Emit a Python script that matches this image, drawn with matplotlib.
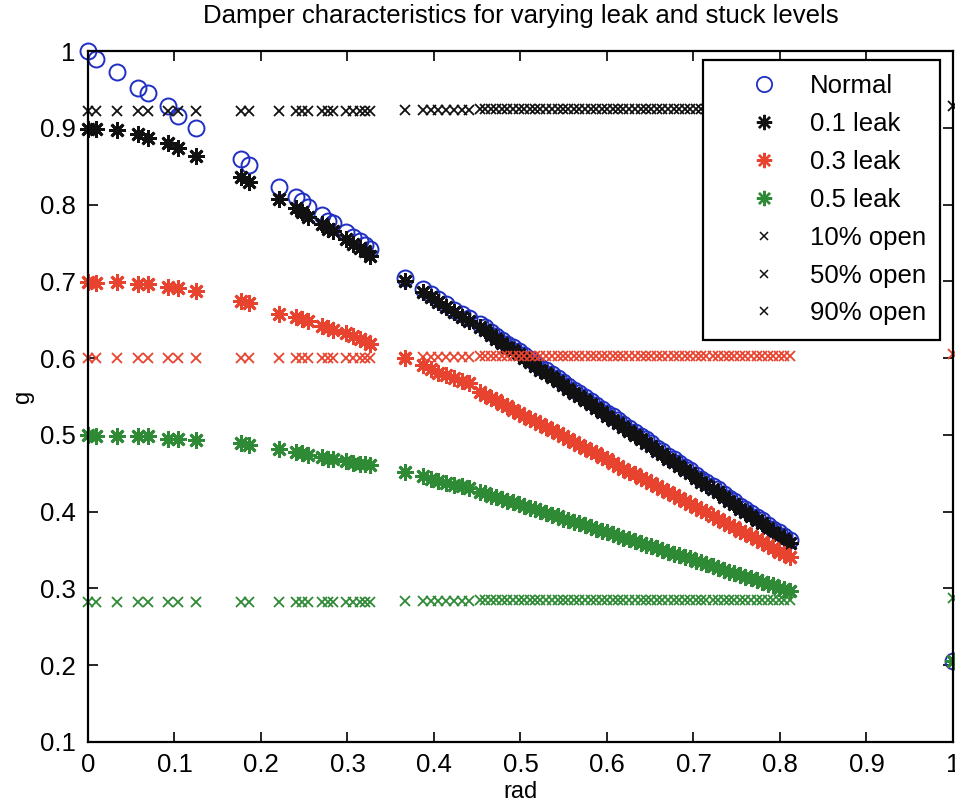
import matplotlib.pyplot as plt
from matplotlib.lines import Line2D

# damper opening angle (rad) at each sample
rad = [0.000, 0.009, 0.033, 0.058, 0.069, 0.093, 0.104, 0.125,
       0.177, 0.186,
       0.221, 0.240, 0.247, 0.254, 0.270, 0.278, 0.283, 0.298, 0.306, 0.314, 0.320, 0.326,
       0.366, 0.387, 0.396, 0.405, 0.414, 0.423, 0.432, 0.440,
       0.453, 0.459, 0.466, 0.472, 0.479, 0.485, 0.491, 0.498, 0.504, 0.511,
       0.517, 0.523, 0.530, 0.536, 0.543, 0.549, 0.555, 0.562, 0.568, 0.575,
       0.581, 0.587, 0.594, 0.600, 0.607, 0.613, 0.619, 0.626, 0.632, 0.639,
       0.645, 0.651, 0.658, 0.664, 0.671, 0.677, 0.683, 0.690, 0.696, 0.703,
       0.709, 0.715, 0.722, 0.728, 0.735, 0.741, 0.747, 0.754, 0.760, 0.767,
       0.773, 0.779, 0.786, 0.792, 0.799, 0.805, 0.811,
       1.000]

normal = [1.000, 0.990, 0.973, 0.952, 0.945, 0.928, 0.916, 0.900,
          0.859, 0.851,
          0.823, 0.810, 0.804, 0.797, 0.786, 0.779, 0.776, 0.764, 0.758, 0.752, 0.747, 0.742,
          0.705, 0.690, 0.683, 0.677, 0.671, 0.663, 0.657, 0.652,
          0.644, 0.640, 0.634, 0.629, 0.624, 0.619, 0.615, 0.609, 0.604, 0.599,
          0.594, 0.589, 0.584, 0.579, 0.574, 0.569, 0.564, 0.559, 0.554, 0.549,
          0.544, 0.539, 0.534, 0.529, 0.524, 0.519, 0.514, 0.509, 0.504, 0.498,
          0.494, 0.489, 0.483, 0.479, 0.473, 0.469, 0.464, 0.458, 0.454, 0.448,
          0.443, 0.439, 0.433, 0.429, 0.423, 0.418, 0.414, 0.408, 0.403, 0.398,
          0.393, 0.389, 0.383, 0.378, 0.373, 0.368, 0.363,
          0.206]

leak01 = [0.899, 0.898, 0.897, 0.892, 0.887, 0.880, 0.874, 0.863,
          0.836, 0.830,
          0.807, 0.795, 0.790, 0.784, 0.775, 0.768, 0.765, 0.755, 0.749, 0.743, 0.739, 0.733,
          0.700, 0.686, 0.680, 0.673, 0.667, 0.660, 0.654, 0.648,
          0.640, 0.636, 0.630, 0.625, 0.620, 0.615, 0.611, 0.605, 0.600, 0.595,
          0.590, 0.585, 0.580, 0.575, 0.570, 0.565, 0.560, 0.555, 0.550, 0.545,
          0.540, 0.535, 0.530, 0.525, 0.520, 0.515, 0.510, 0.505, 0.500, 0.494,
          0.490, 0.485, 0.479, 0.475, 0.469, 0.465, 0.460, 0.454, 0.450, 0.444,
          0.439, 0.435, 0.429, 0.425, 0.419, 0.414, 0.410, 0.404, 0.399, 0.394,
          0.389, 0.385, 0.379, 0.374, 0.369, 0.364, 0.359,
          0.206]

leak03 = [0.699, 0.698, 0.699, 0.696, 0.696, 0.692, 0.691, 0.687,
          0.675, 0.672,
          0.658, 0.653, 0.651, 0.648, 0.642, 0.639, 0.637, 0.633, 0.629, 0.625, 0.622, 0.619,
          0.600, 0.591, 0.586, 0.581, 0.578, 0.574, 0.570, 0.567,
          0.556, 0.552, 0.548, 0.545, 0.540, 0.537, 0.533, 0.529, 0.525, 0.521,
          0.518, 0.514, 0.510, 0.506, 0.502, 0.498, 0.495, 0.491, 0.487, 0.483,
          0.479, 0.476, 0.471, 0.468, 0.464, 0.460, 0.456, 0.452, 0.449, 0.444,
          0.441, 0.437, 0.433, 0.429, 0.425, 0.422, 0.418, 0.414, 0.410, 0.406,
          0.402, 0.399, 0.394, 0.391, 0.387, 0.383, 0.380, 0.375, 0.372, 0.368,
          0.364, 0.360, 0.356, 0.353, 0.348, 0.345, 0.341,
          0.205]

leak05 = [0.500, 0.499, 0.498, 0.498, 0.498, 0.495, 0.495, 0.493,
          0.489, 0.487,
          0.481, 0.478, 0.476, 0.474, 0.471, 0.469, 0.468, 0.466, 0.464, 0.462, 0.462, 0.461,
          0.452, 0.446, 0.443, 0.440, 0.437, 0.435, 0.433, 0.431,
          0.426, 0.424, 0.421, 0.419, 0.417, 0.414, 0.412, 0.410, 0.408, 0.405,
          0.403, 0.401, 0.398, 0.396, 0.394, 0.391, 0.389, 0.387, 0.385, 0.382,
          0.380, 0.378, 0.375, 0.373, 0.371, 0.368, 0.366, 0.364, 0.362, 0.359,
          0.357, 0.355, 0.352, 0.350, 0.348, 0.345, 0.343, 0.341, 0.339, 0.336,
          0.334, 0.332, 0.329, 0.327, 0.324, 0.322, 0.320, 0.318, 0.315, 0.313,
          0.311, 0.309, 0.306, 0.304, 0.301, 0.299, 0.297,
          0.205]

# stuck dampers: flat response per group of samples
open10 = [0.282] * 22 + [0.283] * 8 + [0.285] * 57 + [0.288]
open50 = [0.600] * 22 + [0.601] * 8 + [0.603] * 57 + [0.606]
open90 = [0.922] * 22 + [0.923] * 8 + [0.925] * 57 + [0.928]

labels = ['Normal', '0.1 leak', '0.3 leak', '0.5 leak',
          '10% open', '50% open', '90% open']

blue = '#1f2fc4'
black = '#111111'
red = '#e8432e'
green = '#2f8a36'
star = (8, 2, 0)

plt.rcParams['font.family'] = ['Liberation Sans', 'DejaVu Sans']

fig = plt.figure(figsize=(9.55, 8.1), dpi=100)
ax = fig.add_axes([0.0921, 0.084, 0.9058, 0.853])

ax.plot(rad, normal, 'o', color=blue, mfc='none', ms=11.5, mew=1.4, clip_on=False)
ax.plot(rad, leak01, ls='none', marker=star, color=black, ms=12, mew=2.0, clip_on=False)
ax.plot(rad, leak03, ls='none', marker=star, color=red, ms=12, mew=2.0, clip_on=False)
ax.plot(rad, leak05, ls='none', marker=star, color=green, ms=12, mew=2.0, clip_on=False)
ax.plot(rad, open10, 'x', color=green, ms=7, mew=1.3, clip_on=False)
ax.plot(rad, open50, 'x', color=red, ms=7, mew=1.3, clip_on=False)
ax.plot(rad, open90, 'x', color=black, ms=7, mew=1.3, clip_on=False)

ax.set_xlim(0, 1)
ax.set_ylim(0.1, 1)
ax.set_xticks([i / 10 for i in range(11)])
ax.set_yticks([i / 10 for i in range(1, 11)])
ax.set_xticklabels([f'{i / 10:g}' for i in range(11)])
ax.set_yticklabels([f'{i / 10:g}' for i in range(1, 11)])
ax.tick_params(direction='in', top=True, right=True, length=7, width=1.2,
               labelsize=18.5, pad=8)
ax.tick_params(axis='y', pad=9)
for s in ax.spines.values():
    s.set_linewidth(1.6)

ax.set_xlabel('rad', fontsize=17, labelpad=3)
ax.set_ylabel('g', fontsize=17, labelpad=4)
ax.set_title('Damper characteristics for varying leak and stuck levels',
             fontsize=18.5, pad=20)

handles = [
    Line2D([], [], ls='none', marker='o', color=blue, mfc='none', ms=11, mew=1.3),
    Line2D([], [], ls='none', marker=star, color=black, ms=11, mew=1.7),
    Line2D([], [], ls='none', marker=star, color=red, ms=11, mew=1.7),
    Line2D([], [], ls='none', marker=star, color=green, ms=11, mew=1.7),
    Line2D([], [], ls='none', marker='x', color=black, ms=6, mew=1.1),
    Line2D([], [], ls='none', marker='x', color=black, ms=6, mew=1.1),
    Line2D([], [], ls='none', marker='x', color=black, ms=6, mew=1.1),
]
leg = ax.legend(handles, labels, loc='upper right', bbox_to_anchor=(0.985, 0.987),
                borderaxespad=0, fancybox=False, framealpha=1, edgecolor='black',
                prop={'size': 18.5}, handlelength=3.6, handletextpad=0.0,
                labelspacing=0.54, borderpad=0.55, numpoints=1)
leg.get_frame().set_linewidth(1.6)

fig.savefig('out.png', dpi=100)
